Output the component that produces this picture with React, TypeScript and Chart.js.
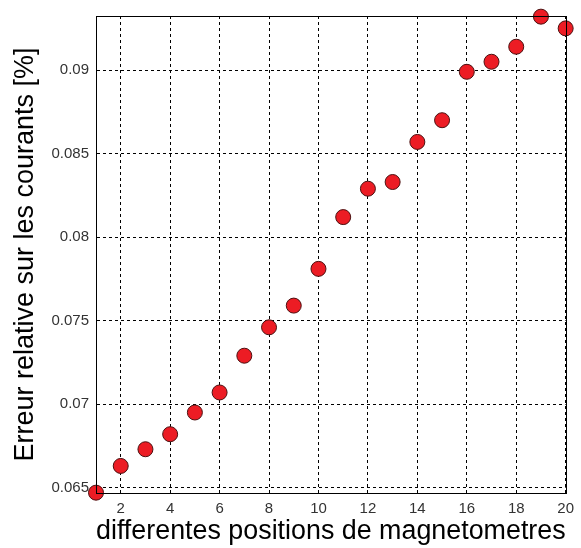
import React, { useEffect, useRef } from "react";
import { Chart, registerables } from "chart.js";

Chart.register(...registerables);

const positions = [1, 2, 3, 4, 5, 6, 7, 8, 9, 10, 11, 12, 13, 14, 15, 16, 17, 18, 19, 20];
const errors = [
  0.0647, 0.0663, 0.0673, 0.0682, 0.0695, 0.0707, 0.0729, 0.0746, 0.0759, 0.0781,
  0.0812, 0.0829, 0.0833, 0.0857, 0.0870, 0.0899, 0.0905, 0.0914, 0.0932, 0.0925,
];
const xTicks = [2, 4, 6, 8, 10, 12, 14, 16, 18, 20];
const yTicks = [0.065, 0.07, 0.075, 0.08, 0.085, 0.09];
const xTitle = "differentes positions de magnetometres";
const yTitle = "Erreur relative sur les courants [%]";

const framePlugin = {
  id: "frame",
  afterDatasetsDraw(chart: any) {
    const { ctx, chartArea } = chart;
    ctx.save();
    ctx.strokeStyle = "#000";
    ctx.lineWidth = 1;
    ctx.strokeRect(
      Math.round(chartArea.left) + 0.5,
      Math.round(chartArea.top) + 0.5,
      Math.round(chartArea.right - chartArea.left),
      Math.round(chartArea.bottom - chartArea.top)
    );
    ctx.restore();
  },
};

export default function App() {
  const ref = useRef<HTMLCanvasElement>(null);
  useEffect(() => {
    document.body.style.margin = "0";
    const chart = new Chart(ref.current!, {
      type: "scatter",
      data: {
        datasets: [
          {
            data: positions.map((x, i) => ({ x, y: errors[i] })),
            pointRadius: 7.5,
            pointHoverRadius: 7.5,
            backgroundColor: "#ec1c24",
            borderColor: "#4a1010",
            borderWidth: 1,
            showLine: false,
            clip: false as any,
          },
        ],
      },
      options: {
        responsive: false,
        animation: false,
        layout: { padding: { top: 15, right: 7, left: 0, bottom: 0 } },
        plugins: { legend: { display: false }, tooltip: { enabled: false } },
        scales: {
          x: {
            type: "linear",
            min: 1,
            max: 20,
            afterBuildTicks: (s: any) => {
              s.ticks = xTicks.map((v) => ({ value: v }));
            },
            afterFit: (s: any) => {
              s.height = 55;
            },
            grid: { color: "#000", lineWidth: 1, drawTicks: false },
            border: { display: true, color: "#000", width: 1, dash: [3, 3] },
            ticks: {
              color: "#333",
              font: { family: "Liberation Sans, Arial", size: 15 },
              padding: 7,
              maxRotation: 0,
              callback: (v: any) => String(v),
            },
            title: {
              display: true,
              text: xTitle,
              color: "#000",
              font: { family: "Liberation Sans, Arial", size: 27 },
              padding: { top: 0, bottom: 0 },
            },
          },
          y: {
            type: "linear",
            min: 0.06468,
            max: 0.09324,
            afterBuildTicks: (s: any) => {
              s.ticks = yTicks.map((v) => ({ value: v }));
            },
            afterFit: (s: any) => {
              s.width = 96;
            },
            grid: { color: "#000", lineWidth: 1, drawTicks: false },
            border: { display: true, color: "#000", width: 1, dash: [3, 3] },
            ticks: {
              color: "#333",
              font: { family: "Liberation Sans, Arial", size: 15 },
              padding: 7,
              callback: (v: any) => String(v),
            },
            title: {
              display: true,
              text: yTitle,
              color: "#000",
              font: { family: "Liberation Sans, Arial", size: 27 },
              padding: { top: 9, bottom: 0 },
            },
          },
        },
      },
      plugins: [framePlugin],
    });
    return () => chart.destroy();
  }, []);
  return (
    <div style={{ width: 581, height: 548 }}>
      <canvas ref={ref} width={581} height={548} />
    </div>
  );
}
